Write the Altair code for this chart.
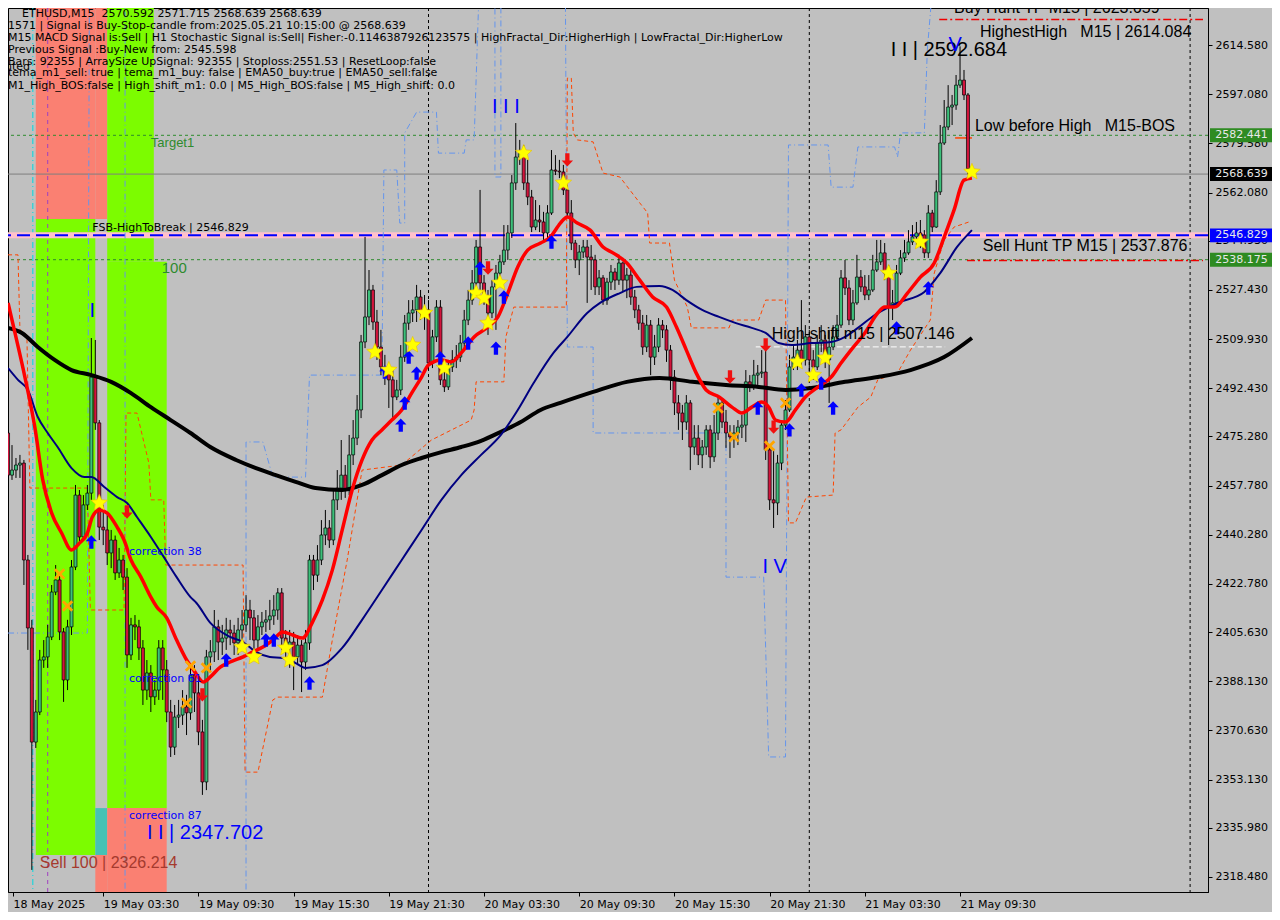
import altair as alt
import pandas as pd

# ---------------- values ----------------
# M15 candles, bar 0 = 18 May 21:30, last bar = 21 May 10:15
FIRST_OPEN = 2476.5
CLOSE = [
    2461.5, 2463.3, 2465.1, 2465.8, 2431.3, 2407.1, 2366.5, 2377.2, 2395.7, 2396.8,
    2403.9, 2419.9, 2424.2, 2405.7, 2388.6, 2407.5, 2428.8, 2454.4, 2439.5, 2450.9,
    2455.1, 2496.4, 2480.1, 2443.0, 2442.0, 2433.8, 2438.4, 2426.7, 2431.3, 2425.2,
    2397.5, 2408.2, 2407.5, 2400.0, 2385.0, 2391.1, 2382.6, 2385.0, 2400.0, 2392.2,
    2377.2, 2364.7, 2375.4, 2376.1, 2379.0, 2376.9, 2390.4, 2384.0, 2370.1, 2352.3,
    2396.8, 2398.6, 2407.5, 2402.1, 2403.5, 2406.4, 2405.3, 2401.8, 2406.4, 2408.2,
    2413.5, 2410.7, 2402.8, 2407.5, 2409.2, 2410.0, 2411.4, 2413.5, 2419.6, 2403.5,
    2400.3, 2402.1, 2396.8, 2401.0, 2395.0, 2401.8, 2431.3, 2425.9, 2431.3, 2440.2,
    2442.7, 2438.4, 2452.7, 2456.9, 2461.5, 2456.2, 2468.7, 2474.7, 2484.7, 2508.9,
    2517.8, 2527.4, 2516.0, 2507.1, 2500.0, 2497.8, 2495.4, 2489.3, 2491.8, 2503.5,
    2515.6, 2519.2, 2520.3, 2524.9, 2519.2, 2520.3, 2501.4, 2510.7, 2521.3, 2495.4,
    2492.9, 2500.0, 2502.5, 2503.5, 2508.5, 2516.7, 2523.8, 2529.9, 2542.7, 2529.9,
    2524.9, 2519.2, 2528.5, 2533.4, 2537.4, 2541.6, 2547.7, 2565.5, 2574.7, 2576.1,
    2565.5, 2560.5, 2549.8, 2552.3, 2551.6, 2547.7, 2554.8, 2570.1, 2569.7, 2569.4,
    2563.0, 2554.8, 2544.1, 2538.1, 2540.9, 2542.7, 2539.1, 2538.1, 2528.5, 2531.7,
    2523.8, 2530.2, 2533.8, 2530.9, 2537.0, 2530.9, 2532.7, 2524.9, 2520.3, 2515.6,
    2507.1, 2514.9, 2503.5, 2507.1, 2514.9, 2513.2, 2506.0, 2496.4, 2487.2, 2483.6,
    2480.4, 2487.2, 2471.5, 2474.7, 2468.7, 2471.5, 2477.6, 2468.0, 2476.5, 2487.2,
    2480.4, 2476.5, 2475.1, 2476.5, 2478.6, 2479.3, 2494.7, 2492.9, 2497.1, 2497.8,
    2498.2, 2470.5, 2452.7, 2451.6, 2465.8, 2479.3, 2484.7, 2500.0, 2503.5, 2506.0,
    2502.5, 2510.7, 2502.5, 2500.0, 2508.5, 2509.6, 2502.5, 2507.1, 2510.7, 2514.9,
    2531.7, 2528.1, 2516.7, 2522.8, 2532.0, 2528.5, 2525.6, 2527.4, 2534.5, 2537.4,
    2540.6, 2533.4, 2521.3, 2522.8, 2533.4, 2538.8, 2540.6, 2544.5, 2546.3, 2547.7,
    2547.0, 2540.6, 2554.8, 2549.8, 2562.3, 2579.7, 2585.4, 2592.5, 2593.2, 2600.3,
    2602.1, 2596.8, 2570.592, 2568.639,
]
HIGH = [
    2479.3, 2472.2, 2467.6, 2468.7, 2466.9, 2433.1, 2410.0, 2381.5, 2399.3, 2402.8,
    2408.2, 2422.4, 2429.5, 2426.0, 2407.1, 2410.0, 2431.3, 2458.0, 2456.2, 2454.4,
    2458.0, 2510.3, 2509.6, 2481.1, 2450.9, 2447.3, 2442.0, 2440.0, 2435.6, 2433.1,
    2428.4, 2410.7, 2411.7, 2410.0, 2402.8, 2395.7, 2393.9, 2388.6, 2402.8, 2402.8,
    2395.7, 2381.5, 2379.7, 2381.5, 2385.0, 2383.3, 2393.9, 2393.9, 2388.6, 2374.4,
    2399.3, 2402.8, 2413.5, 2410.0, 2408.2, 2410.7, 2410.0, 2408.2, 2410.7, 2413.5,
    2418.8, 2417.1, 2413.5, 2411.7, 2412.8, 2413.5, 2417.1, 2418.8, 2421.3, 2421.3,
    2406.4, 2406.4, 2405.7, 2404.6, 2402.8, 2406.4, 2433.1, 2433.1, 2436.6, 2445.5,
    2449.1, 2445.5, 2456.2, 2463.3, 2474.0, 2465.1, 2475.8, 2481.1, 2490.0, 2511.4,
    2546.3, 2534.5, 2529.2, 2520.3, 2513.2, 2504.3, 2500.7, 2498.9, 2495.4, 2507.8,
    2518.5, 2523.8, 2523.8, 2529.2, 2527.4, 2525.6, 2523.8, 2513.2, 2523.8, 2523.8,
    2498.9, 2502.5, 2506.0, 2507.8, 2511.4, 2520.3, 2527.4, 2534.5, 2545.2, 2563.0,
    2532.7, 2527.4, 2530.9, 2536.3, 2539.9, 2550.5, 2550.5, 2568.3, 2586.8, 2580.8,
    2579.0, 2573.7, 2563.0, 2559.4, 2557.6, 2555.2, 2557.6, 2577.2, 2575.4, 2573.7,
    2571.9, 2564.8, 2559.4, 2545.2, 2543.4, 2545.2, 2545.2, 2543.4, 2539.9, 2534.5,
    2532.7, 2531.7, 2536.3, 2535.2, 2539.9, 2537.5, 2535.2, 2534.5, 2527.4, 2522.1,
    2518.5, 2518.5, 2516.7, 2511.4, 2517.4, 2516.7, 2514.9, 2507.8, 2498.9, 2490.0,
    2486.5, 2490.0, 2488.2, 2479.3, 2479.3, 2474.0, 2479.3, 2479.3, 2482.9, 2490.0,
    2488.2, 2484.7, 2479.3, 2479.3, 2481.1, 2482.9, 2498.9, 2497.1, 2502.5, 2500.7,
    2506.0, 2507.8, 2472.2, 2470.5, 2468.7, 2481.1, 2488.2, 2504.3, 2507.8, 2509.6,
    2523.8, 2514.9, 2513.2, 2506.0, 2511.4, 2514.9, 2511.4, 2513.2, 2514.9, 2518.5,
    2534.5, 2538.1, 2530.9, 2527.4, 2539.9, 2534.5, 2532.7, 2532.7, 2539.9, 2545.2,
    2545.2, 2544.1, 2536.3, 2527.4, 2536.3, 2541.6, 2545.2, 2548.7, 2550.5, 2551.6,
    2552.3, 2548.7, 2557.6, 2555.9, 2566.5, 2586.1, 2595.0, 2600.3, 2596.8, 2603.9,
    2614.1, 2605.7, 2597.5, 2571.715,
]
LOW = [
    2459.1, 2459.8, 2460.5, 2460.5, 2422.4, 2399.3, 2321.0, 2364.4, 2376.1, 2392.9,
    2392.9, 2402.8, 2418.8, 2402.8, 2380.8, 2385.0, 2404.6, 2427.7, 2436.6, 2438.4,
    2449.1, 2452.7, 2477.6, 2438.4, 2436.6, 2429.5, 2428.4, 2424.2, 2424.9, 2420.6,
    2392.9, 2395.7, 2402.8, 2395.7, 2379.7, 2381.5, 2377.2, 2379.7, 2381.5, 2381.5,
    2373.6, 2361.2, 2361.9, 2371.5, 2372.6, 2369.0, 2374.4, 2377.2, 2365.4, 2347.7,
    2349.4, 2391.4, 2395.0, 2395.7, 2397.5, 2399.3, 2401.0, 2397.5, 2397.5, 2402.8,
    2405.7, 2402.8, 2397.5, 2400.0, 2404.6, 2405.7, 2406.4, 2408.2, 2410.0, 2399.3,
    2395.7, 2392.9, 2385.0, 2393.9, 2384.3, 2392.2, 2399.3, 2420.6, 2423.5, 2429.5,
    2436.6, 2435.6, 2436.6, 2449.1, 2452.7, 2453.4, 2454.4, 2465.1, 2472.2, 2481.8,
    2506.7, 2514.9, 2513.2, 2502.5, 2497.1, 2493.6, 2485.4, 2481.1, 2488.2, 2490.0,
    2501.8, 2513.2, 2516.0, 2516.0, 2516.7, 2513.2, 2498.9, 2499.6, 2508.9, 2493.6,
    2491.1, 2491.8, 2498.2, 2499.6, 2501.8, 2506.7, 2514.9, 2522.1, 2527.4, 2527.4,
    2522.1, 2511.4, 2517.4, 2513.2, 2531.7, 2536.3, 2538.1, 2545.9, 2563.0, 2571.9,
    2563.0, 2557.6, 2548.0, 2548.7, 2548.0, 2545.2, 2545.2, 2554.1, 2568.3, 2567.2,
    2561.2, 2553.0, 2541.6, 2535.2, 2532.7, 2538.8, 2522.8, 2527.4, 2525.6, 2525.6,
    2522.1, 2522.1, 2527.4, 2527.4, 2529.2, 2526.7, 2524.5, 2522.1, 2517.4, 2513.2,
    2504.3, 2505.3, 2497.1, 2500.7, 2505.3, 2510.3, 2501.8, 2491.8, 2482.9, 2477.6,
    2474.0, 2477.6, 2463.3, 2468.7, 2465.1, 2464.0, 2468.7, 2464.0, 2466.2, 2474.0,
    2478.3, 2471.2, 2467.6, 2471.2, 2472.2, 2474.7, 2473.3, 2491.1, 2491.8, 2493.6,
    2496.1, 2466.9, 2449.1, 2442.7, 2447.3, 2463.3, 2477.6, 2484.0, 2498.9, 2498.9,
    2500.7, 2500.5, 2497.1, 2495.4, 2498.9, 2505.3, 2499.6, 2487.2, 2506.0, 2509.6,
    2513.9, 2525.6, 2514.9, 2514.9, 2522.1, 2526.7, 2523.8, 2523.8, 2526.7, 2533.8,
    2536.3, 2530.9, 2507.8, 2516.7, 2522.1, 2532.7, 2537.4, 2539.9, 2543.4, 2543.4,
    2542.3, 2538.8, 2538.8, 2548.0, 2549.5, 2561.2, 2579.0, 2584.3, 2586.1, 2591.5,
    2599.3, 2595.0, 2568.5, 2568.639,
]

TIME_TICKS = [1.25, 24, 48, 72, 96, 120, 144, 168, 192, 216, 240]
TIME_LABELS = ["18 May 2025", "19 May 03:30", "19 May 09:30", "19 May 15:30",
               "19 May 21:30", "20 May 03:30", "20 May 09:30", "20 May 15:30",
               "20 May 21:30", "21 May 03:30", "21 May 09:30"]
PRICE_TICKS = [2318.48, 2335.98, 2353.13, 2370.63, 2388.13, 2405.63, 2422.78,
               2440.28, 2457.78, 2475.28, 2492.43, 2509.93, 2527.43, 2544.93,
               2562.08, 2579.58, 2597.08, 2614.58]
X_DOMAIN = [1.25, 301.25]
Y_DOMAIN = [2313.14, 2627.75]

# moving averages (bar position, price)
RED_EMA = [(0, 2522.8), (1.75, 2512.1), (4.25, 2496.4), (6.75, 2478.6), (8.75, 2459.8),
           (11, 2448.0), (13.5, 2440.9), (16, 2434.9), (18, 2437.3), (20, 2440.9),
           (21.25, 2446.6), (23, 2449.1), (25, 2448.0), (27.5, 2443.0), (29.25, 2438.4),
           (31, 2431.3), (33.5, 2425.2), (36, 2418.1), (37.5, 2414.6), (40, 2410.7),
           (42.5, 2402.8), (44.75, 2396.4), (46.75, 2392.2), (49.25, 2387.9), (51, 2389.7),
           (53.5, 2393.2), (56, 2395.0), (59.25, 2396.8), (61.75, 2398.6), (64.25, 2400.3),
           (66.75, 2402.8), (69.25, 2405.7), (71.75, 2404.6), (74.25, 2403.5), (76.75, 2409.2),
           (79.25, 2417.1), (81.75, 2427.7), (84.25, 2442.0), (86.75, 2456.2), (89.25, 2466.9),
           (91.75, 2474.0), (94.25, 2477.6), (96.75, 2481.1), (99.25, 2484.7), (101.75, 2490.7),
           (104.25, 2496.4), (106, 2500.7), (109.25, 2502.5), (111.75, 2501.8), (114.25, 2505.0),
           (117.5, 2510.7), (121, 2514.2), (123.5, 2517.8), (126, 2526.3), (128.5, 2535.6),
           (131, 2541.6), (134.25, 2544.1), (136.75, 2546.3), (139.25, 2551.2), (141, 2553.4),
           (143.5, 2551.2), (146.75, 2548.7), (150, 2542.7), (152.5, 2540.6), (156, 2537.0),
           (159.25, 2530.9), (162.5, 2524.9), (166, 2521.3), (168.5, 2514.2), (171, 2506.0),
           (173.5, 2497.8), (176, 2491.8), (179.25, 2489.3), (182.5, 2485.7), (185, 2483.6),
           (187.5, 2485.7), (190, 2487.5), (191.75, 2485.7), (193.5, 2481.1), (196, 2480.4),
           (198.5, 2484.7), (201, 2489.3), (204.25, 2492.9), (207.5, 2496.4), (210, 2501.4),
           (212.5, 2506.0), (216, 2512.1), (219.25, 2519.2), (221, 2521.3), (223.5, 2521.3),
           (226.75, 2526.3), (230, 2532.0), (233.5, 2537.0), (236, 2546.2), (238.5, 2555.9),
           (241, 2566.5), (243, 2567.2)]
NAVY_EMA = [(0, 2499.6), (2.5, 2495.4), (5, 2491.8), (7.5, 2482.2), (10, 2476.5),
            (12.5, 2471.5), (16, 2464.0), (19.25, 2460.8), (21, 2460.8), (24.25, 2457.3),
            (27.5, 2453.7), (30, 2451.6), (32.5, 2446.6), (36, 2439.5), (39.25, 2432.4),
            (42.5, 2425.2), (46, 2418.1), (47.5, 2416.0), (51, 2408.9), (56, 2403.9),
            (59.25, 2402.1), (62.5, 2398.6), (66, 2396.8), (69.25, 2396.4), (72.5, 2394.6),
            (75, 2392.9), (79.25, 2393.9), (84.25, 2400.0), (89.25, 2410.0), (94.25, 2420.6),
            (99.25, 2431.3), (104.25, 2442.0), (109.25, 2452.7), (114.25, 2461.5), (119.25, 2468.7),
            (124.25, 2475.8), (128.5, 2484.7), (132.5, 2494.3), (137.5, 2505.0), (141, 2510.7),
            (146, 2519.2), (149.25, 2522.8), (154.25, 2526.3), (158.5, 2528.5), (164.25, 2528.8),
            (167.5, 2527.4), (171, 2523.8), (175, 2520.3), (179.25, 2517.8), (183.5, 2515.6),
            (187.5, 2513.9), (191, 2512.1), (194.25, 2508.5), (197.5, 2507.8), (202.5, 2508.5),
            (207.5, 2508.9), (211, 2510.7), (214.25, 2513.9), (218.5, 2518.5), (224.25, 2522.8),
            (231, 2526.7), (235, 2533.4), (239.25, 2542.7), (243, 2548.7)]
BLACK_EMA = [(0, 2513.9), (3.5, 2512.1), (7.5, 2507.1), (11.75, 2502.5), (16, 2498.9),
             (21, 2497.1), (26, 2494.7), (31, 2490.7), (36, 2485.7), (41, 2481.1),
             (46, 2476.5), (51, 2471.5), (57.5, 2466.9), (62.5, 2464.0), (67.5, 2461.5),
             (72.5, 2459.1), (77.5, 2456.9), (84.25, 2456.2), (89.25, 2458.0), (94.25, 2461.5),
             (99.25, 2465.1), (104.25, 2467.6), (109.25, 2469.7), (114.25, 2471.5), (119.25, 2473.7),
             (124.25, 2476.9), (129.25, 2480.4), (134.25, 2484.7), (139.25, 2487.2), (147.5, 2491.1),
             (156, 2494.7), (164.25, 2496.1), (172.5, 2494.7), (181, 2493.6), (189.25, 2492.9),
             (196, 2491.8), (202.5, 2492.5), (211, 2494.7), (219.25, 2496.4), (227.5, 2498.9),
             (236, 2503.5), (243, 2510.3)]

# stepped channel lines
ORANGE_CHANNEL = [(0, 2539.9), (2.5, 2539.9), (3, 2513.2), (4.75, 2511.4), (5.5, 2456.9),
                  (20, 2456.9), (20.75, 2413.5), (29.25, 2413.5), (29.75, 2483.6), (32.5, 2483.6),
                  (35.5, 2465.8), (36, 2452.7), (39.25, 2452.7), (39.75, 2429.5), (59.25, 2429.5),
                  (59.75, 2355.8), (63, 2355.8), (66.75, 2381.5), (68, 2382.5), (79.25, 2382.5),
                  (81.75, 2402.8), (85.5, 2431.3), (89.25, 2463.3), (99.25, 2465.1), (106.75, 2474.0),
                  (116.75, 2481.1), (117.5, 2484.7), (118, 2494.7), (125, 2494.7), (125.5, 2510.7),
                  (127.5, 2521.3), (140.75, 2521.3), (141, 2602.8), (142, 2602.8), (142.5, 2583.3),
                  (143.5, 2580.8), (147.5, 2580.1), (150, 2569.0), (154.25, 2567.6), (159.25, 2558.4),
                  (161.25, 2554.8), (161.75, 2544.1), (166.75, 2544.1), (168, 2530.9), (171.25, 2521.3),
                  (172.25, 2513.9), (181.75, 2513.9), (182.5, 2516.7), (189.25, 2516.7), (191, 2523.8),
                  (196, 2523.8), (196.75, 2444.5), (198.5, 2444.5), (201.25, 2453.7), (208, 2454.4),
                  (208.5, 2476.5), (210, 2477.6), (214.25, 2485.7), (217.5, 2489.3), (219.25, 2495.4),
                  (224.25, 2497.9), (227.5, 2506.0), (232.5, 2516.7), (233.5, 2533.4), (236, 2545.2),
                  (238.5, 2549.8), (242.25, 2551.6)]
BLUE_CHANNEL = [(0, 2405.3), (20, 2405.3), (20.5, 2634.2), (29.5, 2634.2), (29.5, 2306.7),
                (60, 2306.7), (60, 2473.3), (64.25, 2473.3), (66.75, 2460.8), (75, 2460.8),
                (76, 2497.1), (94.25, 2497.1), (94.75, 2570.1), (98, 2570.1), (98.75, 2551.2),
                (100, 2551.2), (100, 2583.3), (103, 2590.7), (108, 2590.7), (108.5, 2576.1),
                (115, 2576.1), (115.5, 2580.8), (117.5, 2580.8), (118, 2602.1), (118.75, 2634.2),
                (122.75, 2634.2), (122.75, 2567.6), (124.25, 2567.6), (124.25, 2634.2), (140.5, 2634.2),
                (141, 2507.1), (147.5, 2507.1), (147.5, 2476.5), (181, 2476.5), (181, 2425.2),
                (190.5, 2425.2), (191.75, 2361.2), (196, 2361.2), (196.75, 2579.0), (206.75, 2579.0),
                (207.5, 2564.0), (213, 2564.0), (214.25, 2578.3), (223.5, 2578.3), (224.25, 2574.7),
                (225, 2583.3), (231, 2583.3), (231.75, 2612.8), (233, 2634.2)]

# signal markers (bar position, price)
STARS = [(23, 2451.6), (59, 2400.3), (62, 2396.8), (70, 2400.0), (71, 2395.7), (92.5, 2505.3),
         (96, 2498.9), (102, 2507.8), (105, 2519.2), (110, 2499.6), (118, 2526.3), (120, 2524.5),
         (121, 2515.6), (124, 2529.9), (130, 2576.1), (140, 2565.5), (199, 2501.8), (203, 2497.1),
         (206, 2503.2), (222, 2533.4), (230, 2544.5), (243, 2569.4)]
UP_ARROWS = [(21, 2437.7), (55, 2395.7), (65, 2402.8), (67, 2402.8), (76, 2387.5), (95, 2498.2),
             (99, 2479.3), (100, 2487.2), (101, 2503.5), (103, 2497.8), (109, 2503.2), (116, 2508.5),
             (119, 2535.2), (123, 2506.7), (125, 2524.9), (137, 2544.5), (189, 2485.4), (197, 2477.6),
             (200, 2491.8), (205, 2494.3), (208, 2485.4), (224, 2513.9), (232, 2528.1)]
DOWN_ARROWS = [(30, 2448.4), (49, 2383.3), (121, 2535.2), (141, 2573.7), (182, 2496.4),
               (191, 2507.8), (193, 2478.6)]
CROSSES = [(13, 2426.3), (15, 2414.9), (45, 2380.4), (46, 2393.6), (50, 2392.9), (179, 2485.4),
           (183, 2475.1), (192, 2471.9), (196, 2487.2)]

# coloured zones: start bar, end bar, low price, high price, kind
ZONE_START = [7, 22, 7, 25, 25, 22, 25, 22]
ZONE_END = [22, 25, 22, 36.75, 40, 25, 40, 25]
ZONE_LOW = [2552.7, 2552.7, 2326.3, 2537.4, 2343.0, 2326.3, 2300.0, 2300.0]
ZONE_HIGH = [2640.0, 2640.0, 2552.7, 2640.0, 2537.4, 2343.0, 2343.0, 2326.3]
ZONE_KIND = ["sell", "sell", "buy", "buy", "buy", "mixed", "sell", "sell"]

# levels
TARGET1 = 2582.441
LAST_PRICE = 2568.639
FSB_HIGH = 2546.829
LEVEL_100 = 2538.175
BUY_HUNT_TP = 2623.659
SELL_HUNT_TP = 2537.876
HIGH_SHIFT = 2507.146
LOW_BEFORE_HIGH = 2581.5
BUY_HUNT_FROM = 234.75
SELL_HUNT_FROM = 241.75
HIGH_SHIFT_FROM, HIGH_SHIFT_TO = 188.5, 236.25
LBH_FROM, LBH_TO = 238.75, 243
DAY_SEPARATORS = [106, 202, 298]
DAY19_SEPARATOR = 10
CYAN_MARK = 6.25

NB = "\u00a0"
HEADER_LINES = [
    "ETHUSD,M15" + NB + NB + "2570.592 2571.715 2568.639 2568.639",
    "1571 | Signal is Buy-Stop-candle from:2025.05.21 10:15:00 @ 2568.639",
    "M15 MACD Signal is:Sell | H1 Stochastic Signal is:Sell| Fisher:-0.1146387926123575 | HighFractal_Dir:HigherHigh | LowFractal_Dir:HigherLow",
    "Previous Signal :Buy-New from: 2545.598",
    "Bars: 92355 | ArraySize UpSignal: 92355 | Stoploss:2551.53 | ResetLoop:false",
    "tema_m1_sell: true | tema_m1_buy: false | EMA50_buy:true | EMA50_sell:false",
    "M1_High_BOS:false | High_shift_m1: 0.0 | M5_High_BOS:false | M5_High_shift: 0.0",
]

SMALL_LABELS = [  # (bar, price, text, kind)
    (21.25, 2549.5, "FSB-HighToBreak | 2546.829", "black"),
    (30.5, 2434.1, "correction 38", "blue"),
    (30.5, 2388.9, "correction 61", "blue"),
    (30.5, 2340.2, "correction 87", "blue"),
]
BIG_LABELS = [  # (bar, price, text, kind, size-class)
    (36, 2579.7, "Target1", "green", "m"),
    (38.75, 2535.2, "100", "green", "l"),
    (35, 2334.1, "I I | 2347.702", "blue", "xl"),
    (8, 2323.5, "Sell 100 | 2326.214", "brown", "l2"),
    (222.5, 2612.8, "I I | 2592.684", "black", "xl"),
    (238.5, 2627.9, "Buy Hunt TP M15 | 2623.659", "black", "l2"),
    (245, 2619.2, "HighestHigh" + NB * 3 + "M15 | 2614.084", "black", "l2"),
    (243.75, 2585.8, "Low before High" + NB * 3 + "M15-BOS", "black", "l2"),
    (245.75, 2543.0, "Sell Hunt TP M15 | 2537.876", "black", "l2"),
    (192.5, 2511.7, "High-shift m15 | 2507.146", "black", "l2"),
]
WAVE_LABELS = [(21.25, 2519.9, "I"), (125.5, 2592.5, "I I I"), (193.25, 2428.8, "I V"),
               (238.75, 2614.6, "V")]
BOX_PRICES = [TARGET1, LAST_PRICE, FSB_HIGH, LEVEL_100]
BOX_KIND = ["green", "black", "blue", "green"]

# ---------------- styling / chart ----------------
FONT = "DejaVu Sans"
FONT2 = "Liberation Sans"
W, H = 1200, 884
COLORS = {"black": "#000000", "blue": "#0000FF", "green": "#2E8B2E", "brown": "#A53A2E"}
ZONE_COLORS = {"sell": "#FA8072", "buy": "#7CFC00", "mixed": "#46C2B4"}
SIZES = {"m": 13, "l": 15, "l2": 16, "xl": 20}

label_expr = ""
for t, lab in zip(TIME_TICKS[:-1], TIME_LABELS[:-1]):
    label_expr += f"datum.value < {t + 6} ? '{lab}' : "
label_expr += f"'{TIME_LABELS[-1]}'"

XS = alt.Scale(domain=X_DOMAIN, nice=False, zero=False)
YS = alt.Scale(domain=Y_DOMAIN, nice=False, zero=False)
XAX = alt.Axis(values=TIME_TICKS, labelExpr=label_expr, orient="bottom", tickSize=4,
               labelPadding=2, labelAlign="left", labelBaseline="top", labelFlush=False,
               labelOverlap=False, grid=False, domainColor="black", tickColor="black",
               labelColor="black", labelFont=FONT, labelFontSize=11, title=None)
YAX = alt.Axis(values=PRICE_TICKS, format=".3f", orient="right", tickSize=4, labelPadding=3,
               labelFlush=False, labelOverlap=False, grid=False, domainColor="black",
               tickColor="black", labelColor="black", labelFont=FONT, labelFontSize=11,
               title=None)


def xq(f):
    return alt.X(f"{f}:Q", scale=XS, axis=XAX, title=None)


def yq(f):
    return alt.Y(f"{f}:Q", scale=YS, axis=YAX, title=None)


def pairs_df(pairs):
    return pd.DataFrame({"b": [p[0] for p in pairs], "p": [p[1] for p in pairs],
                         "k": list(range(len(pairs)))})


layers = []

# zones
zones = pd.DataFrame({"x0": ZONE_START, "x1": ZONE_END, "p0": ZONE_LOW, "p1": ZONE_HIGH,
                      "col": [ZONE_COLORS[k] for k in ZONE_KIND]})
layers.append(alt.Chart(zones).mark_rect(clip=True).encode(
    x=xq("x0"), x2="x1:Q", y=yq("p0"), y2="p1:Q", color=alt.Color("col:N", scale=None)))

# vertical separators
layers.append(alt.Chart(pd.DataFrame({"b": [CYAN_MARK]})).mark_rule(
    color="#00D8E0", strokeWidth=1, strokeDash=[6, 3, 1, 3]).encode(x=xq("b")))
layers.append(alt.Chart(pd.DataFrame({"b": [DAY19_SEPARATOR]})).mark_rule(
    color="#A040C0", strokeWidth=1, strokeDash=[4, 4]).encode(x=xq("b")))
layers.append(alt.Chart(pd.DataFrame({"b": DAY_SEPARATORS})).mark_rule(
    color="black", strokeWidth=1, strokeDash=[3, 3]).encode(x=xq("b")))


# horizontal levels
def hline(p, **kw):
    return alt.Chart(pd.DataFrame({"p": [p]})).mark_rule(**kw).encode(y=yq("p"))


layers.append(hline(TARGET1, color="#2E8B2E", strokeWidth=1, strokeDash=[3, 3]))
layers.append(hline(LAST_PRICE, color="#7F7F7F", strokeWidth=1))
layers.append(hline(FSB_HIGH, color="#FFC0CB", strokeWidth=6))
layers.append(hline(FSB_HIGH, color="#0000FF", strokeWidth=2, strokeDash=[13, 6]))
layers.append(hline(LEVEL_100, color="#2E8B2E", strokeWidth=1, strokeDash=[3, 3]))


def seg(b0, b1, p, **kw):
    df = pd.DataFrame({"b0": [b0], "b1": [b1], "p": [p]})
    return alt.Chart(df).mark_rule(clip=True, **kw).encode(x=xq("b0"), x2="b1:Q", y=yq("p"))


layers.append(seg(BUY_HUNT_FROM, X_DOMAIN[1], BUY_HUNT_TP, color="#F00000", strokeWidth=1.5,
                  strokeDash=[8, 3, 2, 3]))
layers.append(seg(SELL_HUNT_FROM, X_DOMAIN[1], SELL_HUNT_TP, color="#F00000", strokeWidth=1.5,
                  strokeDash=[8, 3, 2, 3]))
layers.append(seg(HIGH_SHIFT_FROM, HIGH_SHIFT_TO, HIGH_SHIFT, color="#FFFFFF", strokeWidth=1,
                  strokeDash=[6, 3]))
layers.append(seg(LBH_FROM, LBH_TO, LOW_BEFORE_HIGH, color="#FF4500", strokeWidth=1.5))

# stepped channels
layers.append(alt.Chart(pairs_df(BLUE_CHANNEL)).mark_line(
    color="#6495ED", strokeWidth=1, strokeDash=[6, 3, 1, 3], clip=True).encode(
    x=xq("b"), y=yq("p"), order="k:Q"))
layers.append(alt.Chart(pairs_df(ORANGE_CHANNEL)).mark_line(
    color="#FF4500", strokeWidth=1, strokeDash=[4, 3], clip=True).encode(
    x=xq("b"), y=yq("p"), order="k:Q"))

# candles
opens = [FIRST_OPEN] + CLOSE[:-1]
candles = pd.DataFrame({
    "i": list(range(len(CLOSE))),
    "o": opens,
    "c": CLOSE,
    "hi": [max(h, o, c) for h, o, c in zip(HIGH, opens, CLOSE)],
    "lo": [min(l, o, c) for l, o, c in zip(LOW, opens, CLOSE)],
    "col": ["#3CC07A" if c >= o else "#D2143C" for o, c in zip(opens, CLOSE)],
})
layers.append(alt.Chart(candles).mark_rule(color="black", strokeWidth=1, clip=True).encode(
    x=xq("i"), y=yq("lo"), y2="hi:Q"))
layers.append(alt.Chart(candles).mark_bar(size=3, stroke="black", strokeWidth=0.7, clip=True).encode(
    x=xq("i"), y=yq("o"), y2="c:Q", color=alt.Color("col:N", scale=None)))

# moving averages
layers.append(alt.Chart(pairs_df(BLACK_EMA)).mark_line(
    color="black", strokeWidth=4, interpolate="monotone", clip=True).encode(
    x=xq("b"), y=yq("p"), order="k:Q"))
layers.append(alt.Chart(pairs_df(NAVY_EMA)).mark_line(
    color="#000080", strokeWidth=2, interpolate="monotone", clip=True).encode(
    x=xq("b"), y=yq("p"), order="k:Q"))
layers.append(alt.Chart(pairs_df(RED_EMA)).mark_line(
    color="#FF0000", strokeWidth=3.5, interpolate="monotone", clip=True).encode(
    x=xq("b"), y=yq("p"), order="k:Q"))

# markers
STAR = ("M0,-1L0.27,-0.37L0.95,-0.31L0.44,0.14L0.59,0.81L0,0.46L-0.59,0.81"
        "L-0.44,0.14L-0.95,-0.31L-0.27,-0.37Z")
UP = "M0,-1L0.85,-0.1L0.32,-0.1L0.32,1L-0.32,1L-0.32,-0.1L-0.85,-0.1Z"
DOWN = "M0,1L0.85,0.1L0.32,0.1L0.32,-1L-0.32,-1L-0.32,0.1L-0.85,0.1Z"
XSHAPE = ("M-1,-0.65L-0.65,-1L0,-0.35L0.65,-1L1,-0.65L0.35,0L1,0.65L0.65,1L0,0.35"
          "L-0.65,1L-1,0.65L-0.35,0Z")
BOXSHAPE = "M-1,-0.222L1,-0.222L1,0.222L-1,0.222Z"


def markers(pairs, shape, size, color, stroke=None):
    kw = dict(shape=shape, size=size, filled=True, color=color, opacity=1, clip=True)
    if stroke:
        kw.update(stroke=stroke, strokeWidth=0.6)
    return alt.Chart(pairs_df(pairs)).mark_point(**kw).encode(x=xq("b"), y=yq("p"))


layers.append(markers(CROSSES, XSHAPE, 130, "#FFA500"))
layers.append(markers(UP_ARROWS, UP, 180, "#0000FF"))
layers.append(markers(DOWN_ARROWS, DOWN, 180, "#F01010"))
layers.append(markers(STARS, STAR, 300, "#FFFF00", stroke="#E8C000"))

# labels at prices
small = pd.DataFrame({"b": [s[0] for s in SMALL_LABELS], "p": [s[1] for s in SMALL_LABELS],
                      "t": [s[2] for s in SMALL_LABELS],
                      "col": [COLORS[s[3]] for s in SMALL_LABELS]})
layers.append(alt.Chart(small).mark_text(font=FONT, fontSize=11, align="left",
                                         baseline="middle").encode(
    x=xq("b"), y=yq("p"), text="t:N", color=alt.Color("col:N", scale=None)))
big = pd.DataFrame({"b": [s[0] for s in BIG_LABELS], "p": [s[1] for s in BIG_LABELS],
                    "t": [s[2] for s in BIG_LABELS],
                    "col": [COLORS[s[3]] for s in BIG_LABELS],
                    "fs": [SIZES[s[4]] for s in BIG_LABELS]})
layers.append(alt.Chart(big).mark_text(font=FONT2, align="left", baseline="middle").encode(
    x=xq("b"), y=yq("p"), text="t:N", color=alt.Color("col:N", scale=None),
    size=alt.Size("fs:Q", scale=None)))
waves = pd.DataFrame({"b": [w[0] for w in WAVE_LABELS], "p": [w[1] for w in WAVE_LABELS],
                      "t": [w[2] for w in WAVE_LABELS]})
layers.append(alt.Chart(waves).mark_text(font=FONT2, fontSize=20, align="center",
                                         baseline="middle", color="#0000FF").encode(
    x=xq("b"), y=yq("p"), text="t:N"))

# header block (screen anchored)
one = pd.DataFrame({"z": [0]})
HEADER_X = [14, 0, 0, 0, 0, 0, 0]
HEADER_Y = [6, 17.7, 29.7, 42, 54.3, 65.3, 77.7]
for hx, hy, line in zip(HEADER_X, HEADER_Y, HEADER_LINES):
    layers.append(alt.Chart(one).mark_text(font=FONT, fontSize=11, align="left",
                                           baseline="middle", color="black").encode(
        x=alt.value(hx), y=alt.value(hy), text=alt.value(line)))
layers.append(alt.Chart(one).mark_text(font=FONT, fontSize=11, align="right",
                                       baseline="middle", color="black").encode(
    x=alt.value(22), y=alt.value(58.7), text=alt.value("anted")))

# price boxes on the right scale
BOX_COL = {"green": "#2E8B22", "black": "#000000", "blue": "#0000FF"}
boxes = pd.DataFrame({"p": BOX_PRICES, "t": [f"{v:.3f}" for v in BOX_PRICES],
                      "col": [BOX_COL[k] for k in BOX_KIND]})
layers.append(alt.Chart(boxes).mark_point(shape=BOXSHAPE, size=63 * 63, filled=True,
                                          opacity=1, strokeWidth=0).encode(
    x=alt.value(1233.5), y=yq("p"), color=alt.Color("col:N", scale=None)))
layers.append(alt.Chart(boxes).mark_text(font=FONT, fontSize=11, align="center",
                                         baseline="middle", color="#E8E8E8").encode(
    x=alt.value(1233.5), y=yq("p"), text="t:N"))

chart = alt.layer(*layers).properties(
    width=W, height=H,
    autosize=alt.AutoSizeParams(type="none"),
    padding={"left": 0, "top": 0, "right": 64, "bottom": 20},
).configure(background="#C0C0C0").configure_view(stroke="black", strokeWidth=1, fill="#C0C0C0")

chart.save("out.html", embed_options={"renderer": "svg", "actions": False})
